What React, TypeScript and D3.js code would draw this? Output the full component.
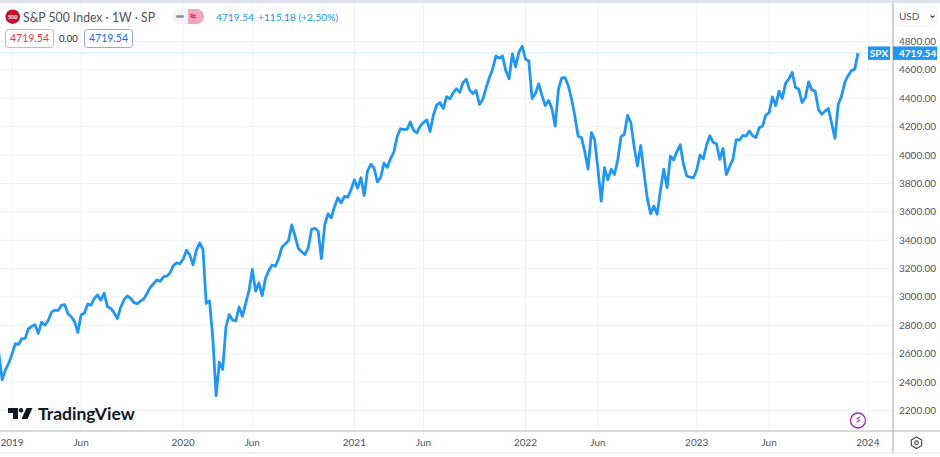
import React from "react"
import * as d3 from "d3"

const width = 940
const height = 457

// weekly closes, first bar closes 2018-12-14
const firstClose = new Date(2018, 11, 14)
const closes2018 = [2600, 2417, 2486]
const closes2019 = [2532, 2596, 2671, 2665, 2707, 2708, 2776, 2793, 2804, 2743, 2822, 2801, 2834, 2893, 2907, 2905, 2940, 2946, 2881, 2860, 2826, 2751, 2873, 2887, 2950, 2942, 2990, 3014, 2977, 3026, 2932, 2919, 2889, 2847, 2926, 2979, 3007, 2992, 2962, 2952, 2970, 2986, 3023, 3067, 3093, 3120, 3110, 3141, 3146, 3169, 3221, 3240]
const closes2020 = [3235, 3265, 3330, 3295, 3226, 3328, 3380, 3338, 2954, 2972, 2711, 2305, 2541, 2489, 2790, 2875, 2837, 2831, 2930, 2864, 2955, 3044, 3194, 3041, 3098, 3009, 3130, 3185, 3225, 3216, 3271, 3351, 3373, 3397, 3508, 3427, 3341, 3319, 3298, 3348, 3477, 3484, 3465, 3270, 3509, 3585, 3558, 3638, 3699, 3663, 3709, 3703, 3756]
const closes2021 = [3825, 3768, 3841, 3714, 3887, 3935, 3907, 3811, 3842, 3943, 3913, 3975, 4020, 4129, 4185, 4180, 4181, 4233, 4174, 4156, 4204, 4230, 4247, 4166, 4281, 4352, 4370, 4327, 4412, 4395, 4437, 4468, 4442, 4509, 4535, 4459, 4433, 4455, 4357, 4391, 4471, 4545, 4605, 4698, 4683, 4698, 4595, 4538, 4712, 4621, 4726, 4766]
const closes2022 = [4677, 4663, 4398, 4432, 4501, 4419, 4349, 4385, 4329, 4204, 4463, 4543, 4546, 4488, 4393, 4272, 4132, 4123, 4024, 3901, 4158, 4109, 3901, 3675, 3912, 3825, 3899, 3863, 3962, 4130, 4145, 4280, 4228, 4058, 3924, 4067, 3873, 3693, 3586, 3640, 3583, 3753, 3901, 3771, 3993, 3965, 4026, 4072, 3934, 3852, 3845, 3840]
const closes2023 = [3895, 3999, 3973, 4071, 4136, 4090, 4079, 3970, 4046, 3862, 3917, 3971, 4109, 4105, 4138, 4134, 4169, 4136, 4124, 4192, 4205, 4282, 4299, 4410, 4348, 4450, 4399, 4505, 4536, 4582, 4478, 4464, 4370, 4406, 4516, 4457, 4450, 4320, 4288, 4309, 4328, 4224, 4117, 4358, 4415, 4514, 4559, 4595, 4604, 4719.54]
const closes = [...closes2018, ...closes2019, ...closes2020, ...closes2021, ...closes2022, ...closes2023]

const priceTicks = [4800, 4600, 4400, 4200, 4000, 3800, 3600, 3400, 3200, 3000, 2800, 2600, 2400, 2200]
const timeTicks: [Date, string][] = [
    [new Date(2019, 0, 11), "2019"],
    [new Date(2019, 5, 7), "Jun"],
    [new Date(2020, 0, 10), "2020"],
    [new Date(2020, 5, 5), "Jun"],
    [new Date(2021, 0, 8), "2021"],
    [new Date(2021, 5, 4), "Jun"],
    [new Date(2022, 0, 7), "2022"],
    [new Date(2022, 5, 10), "Jun"],
    [new Date(2023, 0, 6), "2023"],
    [new Date(2023, 5, 9), "Jun"],
    [new Date(2024, 0, 5), "2024"],
]
const lastPrice = 4719.54

const bars = closes.map((close, i) => ({date: d3.timeDay.offset(firstClose, i * 7), close}))

const x = d3.scaleTime()
    .domain([new Date(2019, 0, 11), new Date(2023, 11, 15)])
    .range([12, 858])
const y = d3.scaleLinear()
    .domain([2200, 4800])
    .range([410.5, 41.5])

const line = d3.line<{date: Date, close: number}>()
    .x(d => x(d.date))
    .y(d => y(d.close))

const font = "Lato, 'Noto Sans', sans-serif"
const axisRight = 893
const axisBottom = 431
const blue = "#2196f3"
const textGrey = "#50535e"

export default function App() {
    return (
        <svg width={width} height={height} style={{position: "absolute", left: 0, top: 0, background: "#fff"}} fontFamily={font}>
            <defs>
                <clipPath id="plot"><rect x={0} y={3} width={axisRight} height={axisBottom - 3} /></clipPath>
            </defs>
            <rect x={0} y={0} width={width} height={3} fill="#e0e3eb" />

            {/* grid */}
            {priceTicks.map(t => (
                <line key={t} x1={0} x2={axisRight} y1={y(t)} y2={y(t)} stroke="#eef2f8" />
            ))}
            {timeTicks.map(([d]) => (
                <line key={d.getTime()} x1={x(d)} x2={x(d)} y1={3} y2={axisBottom} stroke="#eef2f8" />
            ))}

            {/* last price line */}
            <line x1={0} x2={axisRight} y1={y(lastPrice)} y2={y(lastPrice)} stroke={blue} strokeOpacity={0.35} strokeDasharray="1 1" />

            <path d={line(bars) ?? ""} fill="none" stroke={blue} strokeWidth={2.8} strokeLinejoin="round" clipPath="url(#plot)" />

            {/* axes */}
            <line x1={axisRight} x2={axisRight} y1={3} y2={height - 4} stroke="#b2b5be" strokeWidth={1.2} />
            <line x1={0} x2={width} y1={axisBottom} y2={axisBottom} stroke="#b2b5be" strokeWidth={1.2} />
            <line x1={0} x2={width} y1={453} y2={453} stroke="#e0e3eb" />

            {priceTicks.map(t => (
                <text key={t} x={899} y={y(t)} dy="0.35em" fontSize={10} fill={textGrey}>{t.toFixed(2)}</text>
            ))}
            {timeTicks.map(([d, label]) => (
                <text key={d.getTime()} x={x(d)} y={446} textAnchor="middle" fontSize={10} fill={textGrey}>{label}</text>
            ))}

            {/* last price tags */}
            <rect x={868} y={y(lastPrice) - 6.5} width={22} height={13.5} fill={blue} />
            <rect x={893} y={y(lastPrice) - 6.5} width={44} height={13.5} fill={blue} />
            <text x={879} y={y(lastPrice) + 0.3} dy="0.35em" textAnchor="middle" fontSize={10} fontWeight={700} fill="#fff">SPX</text>
            <text x={899} y={y(lastPrice) + 0.3} dy="0.35em" fontSize={10} fontWeight={700} fill="#fff">{lastPrice.toFixed(2)}</text>

            {/* currency button */}
            <rect x={896} y={7} width={41} height={19} rx={4} fill="#fff" stroke="#f0f3fa" />
            <text x={899} y={20} fontSize={10} fill={textGrey}>USD</text>
            <path d="M930.5 15.5 l2 2 l2 -2" fill="none" stroke="#3d4048" strokeWidth={1.1} />

            {/* header */}
            <circle cx={12.7} cy={16.7} r={7.3} fill="#c4122f" />
            <text x={12.7} y={18.7} textAnchor="middle" fontSize={5.5} fontWeight={700} fill="#fff">500</text>
            <text x={23} y={21.5} fontSize={13.5} textLength={132} lengthAdjust="spacingAndGlyphs" fill={textGrey}>S&amp;P 500 Index · 1W · SP</text>
            <rect x={172} y={9} width={32} height={15} rx={7.5} fill="#f0f3fa" />
            <path d="M188 9 h8.5 a7.5 7.5 0 0 1 0 15 h-8.5 z" fill="#f4a6bd" />
            <rect x={176} y={15.3} width={8} height={2.4} rx={1} fill="#8a8d95" />
            <text x={193} y={21} textAnchor="middle" fontSize={14} fontWeight={700} fill="#d81b60">≈</text>
            <text x={216} y={20.5} fontSize={10.2} fill={blue}>4719.54</text>
            <text x={258} y={20.5} fontSize={10.2} fill={blue}>+115.18 (+2.50%)</text>

            <rect x={5.5} y={29.5} width={48} height={18} rx={3} fill="#fff" stroke="#f7a1a9" />
            <text x={29.5} y={42.3} textAnchor="middle" fontSize={10.5} fill="#f23645">4719.54</text>
            <text x={68.5} y={42.3} textAnchor="middle" fontSize={9.5} fill="#2a2e39">0.00</text>
            <rect x={84.5} y={29.5} width={48} height={18} rx={3} fill="#fff" stroke="#91a9f5" />
            <text x={108.5} y={42.3} textAnchor="middle" fontSize={10.5} fill="#2962ff">4719.54</text>

            {/* watermark */}
            <path d="M8 408 h10 v11 h-5 v-6 h-5 z" fill="#131722" />
            <circle cx={21} cy={410.2} r={2.2} fill="#131722" />
            <path d="M21.5 419 L26.5 408 H32.5 L27.5 419 z" fill="#131722" />
            <text x={38} y={419.5} fontSize={17.5} fontWeight={700} fill="#131722">TradingView</text>

            {/* lightning badge */}
            <circle cx={858} cy={420.5} r={7.5} fill="#fff" stroke="#9c27b0" strokeWidth={1.3} />
            <path d="M861 416 l-5 2.5 l3 1 l-4 4 l5.5 -3 l-3 -1 z" fill="#9c27b0" />

            {/* settings */}
            <path d="M916.5 438 l5.2 3 v5.5 l-5.2 3 l-5.2 -3 v-5.5 z" transform="translate(0,-1)" fill="none" stroke="#3d4048" strokeWidth={1.1} />
            <circle cx={916.5} cy={442.7} r={1.8} fill="none" stroke="#3d4048" strokeWidth={1.1} />
        </svg>
    )
}
